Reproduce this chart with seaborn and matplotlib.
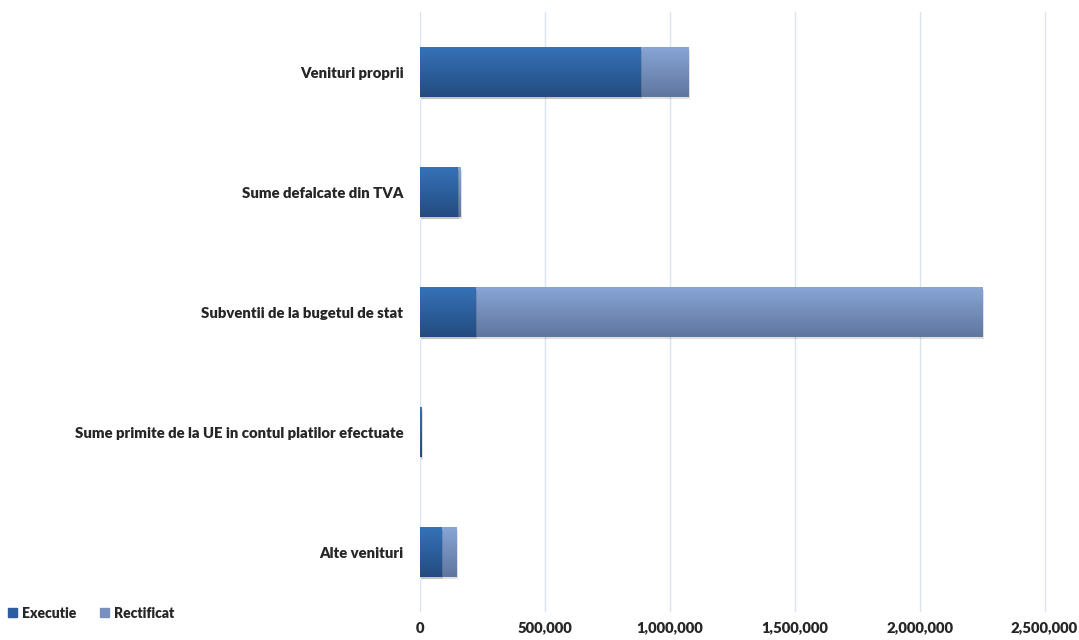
import numpy as np
import pandas as pd
import matplotlib.pyplot as plt
import seaborn as sns
from matplotlib.colors import LinearSegmentedColormap
from matplotlib.ticker import FuncFormatter

categories = ["Venituri proprii", "Sume defalcate din TVA", "Subventii de la bugetul de stat",
              "Sume primite de la UE in contul platilor efectuate", "Alte venituri"]
executie = [884000, 152000, 224000, 5000, 88000]
rectificat = [1075000, 163000, 2250000, 4000, 148000]

df = pd.DataFrame({"categorie": categories, "Executie": executie, "Rectificat": rectificat})

sns.set_style("white")
plt.rcParams["font.family"] = ["Lato", "DejaVu Sans"]

fig = plt.figure(figsize=(10.79, 6.4), dpi=100)
ax = fig.add_axes([420 / 1079, 28 / 640, 632 / 1079, 600 / 640])

# rectificat behind, executie in front
sns.barplot(data=df, y="categorie", x="Rectificat", color="#7890bd", width=0.41,
            orient="h", ax=ax, zorder=2, linewidth=0, edgecolor="none")
n_rect = len(ax.patches)
sns.barplot(data=df, y="categorie", x="Executie", color="#2d5f9f", width=0.41,
            orient="h", ax=ax, zorder=3, linewidth=0, edgecolor="none")

# vertical gradient for each bar, like the office chart
grad_rect = LinearSegmentedColormap.from_list("r", ["#5f769e", "#88a5d6"])
grad_exec = LinearSegmentedColormap.from_list("e", ["#244b80", "#3572b8"])
g = np.linspace(0, 1, 64).reshape(-1, 1)
for i, p in enumerate(ax.patches):
    x0, y0 = p.get_x(), p.get_y()
    w, h = p.get_width(), p.get_height()
    cmap = grad_rect if i < n_rect else grad_exec
    z = 2.1 if i < n_rect else 3.1
    # soft shadow
    sh = plt.Rectangle((x0 + 6000, y0 + 0.02), w, h, color="#000000", alpha=0.12,
                       zorder=z - 0.15, linewidth=0)
    ax.add_patch(sh)
    im = ax.imshow(g, extent=(x0, x0 + w, y0 + h, y0), cmap=cmap, aspect="auto",
                   origin="lower", zorder=z, interpolation="bilinear")
    im.set_clip_path(p)

ax.set_xlim(0, 2530000)
ax.set_ylim(4.5, -0.5)
ax.set_xticks([0, 500000, 1000000, 1500000, 2000000, 2500000])
ax.xaxis.set_major_formatter(FuncFormatter(lambda v, pos: f"{int(v):,}"))
ax.grid(axis="x", color="#d9e4f1", linewidth=1, zorder=0)
ax.grid(axis="y", visible=False)
for s in ax.spines.values():
    s.set_visible(False)
ax.tick_params(axis="x", length=0, pad=7, labelsize=10.7)
ax.tick_params(axis="y", length=0, pad=12, labelsize=10.7)
for t in ax.get_xticklabels() + ax.get_yticklabels():
    t.set_fontweight("heavy")
ax.set_xlabel("")
ax.set_ylabel("")

handles = [plt.Rectangle((0, 0), 1, 1, color="#2d5f9f"),
           plt.Rectangle((0, 0), 1, 1, color="#7890bd")]
fig.legend(handles, ["Executie", "Rectificat"], loc="center left",
           bbox_to_anchor=(0.0, 1 - 613 / 640), ncol=2, frameon=False,
           borderaxespad=0.3, borderpad=0.3,
           handlelength=0.65, handleheight=0.65, handletextpad=0.35, columnspacing=1.7,
           prop={"weight": "heavy", "size": 10})

fig.savefig("out.png", dpi=100, facecolor="white")
